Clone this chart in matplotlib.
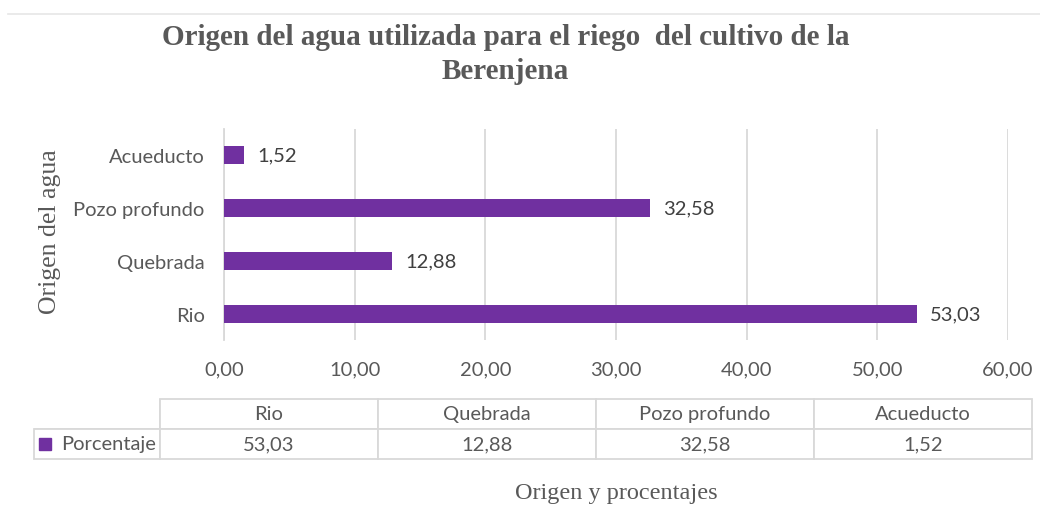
import matplotlib.pyplot as plt
from matplotlib.lines import Line2D

# datos
categorias = ['Rio', 'Quebrada', 'Pozo profundo', 'Acueducto']
porcentaje = [53.03, 12.88, 32.58, 1.52]
xticks = [0, 10, 20, 30, 40, 50, 60]

morado = '#7030A0'
gris = '#595959'
borde = '#D9D9D9'

def coma(v):
    return '{:.2f}'.format(v).replace('.', ',')

fig = plt.figure(figsize=(10.4, 5.06), dpi=100)

# linea del borde superior
fig.add_artist(Line2D([0.008, 1.0], [0.971, 0.971], color='#E6E6E6', lw=1.2))

fig.text(0.486, 0.925, 'Origen del agua utilizada para el riego  del cultivo de la',
         ha='center', va='center', fontsize=21, fontweight='bold',
         family='Liberation Serif', color=gris)
fig.text(0.486, 0.858, 'Berenjena', ha='center', va='center', fontsize=21,
         fontweight='bold', family='Liberation Serif', color=gris)

ax = fig.add_axes([224 / 1040, 1 - 341 / 506, 784 / 1040, 211 / 506])
y = range(len(categorias))
ax.barh(y, porcentaje, height=0.34, color=morado, zorder=3)
for yi, v in zip(y, porcentaje):
    ax.text(v + 1.0, yi, coma(v), va='center', ha='left', fontsize=14.5,
            family='Lato', color='#404040')

ax.set_xlim(0, 60)
ax.set_ylim(-0.5, len(categorias) - 0.5)
ax.set_xticks(xticks)
ax.set_xticklabels([coma(t) for t in xticks], family='Lato', fontsize=14.5, color=gris)
ax.set_yticks(list(y))
ax.set_yticklabels(categorias, family='Lato', fontsize=14.5, color=gris)
ax.tick_params(axis='both', length=0)
ax.tick_params(axis='y', pad=14)
ax.tick_params(axis='x', pad=15)
ax.grid(axis='x', color=borde, lw=1.3, zorder=0)
for s in ['top', 'right', 'bottom']:
    ax.spines[s].set_visible(False)
ax.spines['left'].set_color(borde)
ax.spines['left'].set_linewidth(1.3)

fig.text(50 / 1040, 1 - 232 / 506, 'Origen del agua', rotation=90, ha='center',
         va='center', fontsize=18.5, family='Liberation Serif', color=gris)
fig.text(616 / 1040, 1 - 494 / 506, 'Origen y procentajes', ha='center',
         va='center', fontsize=17.5, family='Liberation Serif', color=gris)

# tabla de datos
tax = fig.add_axes([34 / 1040, 1 - 460 / 506, 998 / 1040, 60 / 506])
tax.axis('off')
filas = [[''] + categorias, ['Porcentaje'] + [coma(v) for v in porcentaje]]
anchos = [126 / 998] + [218 / 998] * len(categorias)
tabla = tax.table(cellText=filas, colWidths=anchos, bbox=[0, 0, 1, 1], cellLoc='center')
tabla.auto_set_font_size(False)
for (r, c), cell in tabla.get_celld().items():
    cell.set_edgecolor(borde)
    cell.set_linewidth(1.3)
    cell.get_text().set_fontsize(14.5)
    cell.get_text().set_family('Lato')
    cell.get_text().set_color(gris)
tabla[0, 0].visible_edges = 'BR'
tabla[1, 0].get_text().set_ha('right')
tabla[1, 0].PAD = 0.03
tax.plot([0.011], [0.25], marker='s', ms=8, color=morado, transform=tax.transAxes,
         clip_on=False)

fig.savefig('out.png', dpi=100)
